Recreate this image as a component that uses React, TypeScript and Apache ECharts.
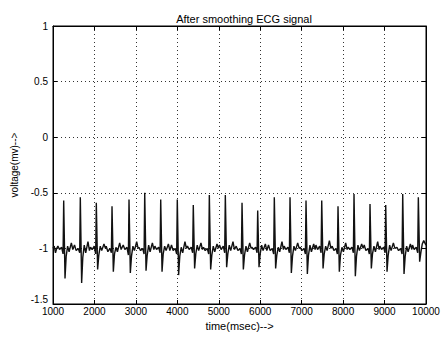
import React, { useEffect, useRef } from "react";
import * as echarts from "echarts";

const chartTitle = "After smoothing ECG signal";
const xAxisName = "time(msec)-->";
const yAxisName = "voltage(mv)-->";

// time (ms), voltage (mV)
const leadIn: [number, number][] = [
  [1000, -1.0], [1030, -0.98], [1060, -1.04], [1090, -1.0],
];
const beat01: [number, number][] = [[1118, -0.98], [1158, -1.01], [1208, -0.99], [1243, -1.05], [1258, -0.57], [1290, -1.27], [1318, -1.07], [1353, -0.98], [1388, -1.03], [1443, -0.95], [1478, -1.01]];
const beat02: [number, number][] = [[1519, -0.97], [1559, -1.02], [1609, -1.0], [1644, -1.04], [1659, -0.54], [1691, -1.31], [1719, -1.08], [1754, -0.97], [1789, -1.04], [1844, -0.94], [1879, -1.02]];
const beat03: [number, number][] = [[1905, -0.99], [1945, -1.01], [1995, -0.98], [2030, -1.05], [2045, -0.59], [2077, -1.19], [2105, -1.06], [2140, -0.98], [2175, -1.02], [2230, -0.96], [2265, -1.0]];
const beat04: [number, number][] = [[2284, -0.98], [2324, -1.03], [2374, -1.0], [2409, -1.04], [2424, -0.62], [2456, -1.21], [2484, -1.05], [2519, -0.99], [2554, -1.03], [2609, -0.95], [2644, -1.01]];
const beat05: [number, number][] = [[2694, -0.97], [2734, -1.01], [2784, -0.99], [2819, -1.06], [2834, -0.56], [2866, -1.22], [2894, -1.07], [2929, -0.98], [2964, -1.02], [3019, -0.94], [3054, -1.0]];
const beat06: [number, number][] = [[3073, -0.99], [3113, -1.02], [3163, -1.0], [3198, -1.05], [3213, -0.5], [3245, -1.2], [3273, -1.06], [3308, -0.97], [3343, -1.03], [3398, -0.95], [3433, -1.01]];
const beat07: [number, number][] = [[3459, -0.98], [3499, -1.01], [3549, -0.99], [3584, -1.04], [3599, -0.56], [3631, -1.21], [3659, -1.05], [3694, -0.98], [3729, -1.02], [3784, -0.96], [3819, -1.02]];
const beat08: [number, number][] = [[3859, -0.97], [3899, -1.02], [3949, -1.0], [3984, -1.05], [3999, -0.56], [4031, -1.24], [4059, -1.07], [4094, -0.99], [4129, -1.04], [4184, -0.94], [4219, -1.0]];
const beat09: [number, number][] = [[4245, -0.98], [4285, -1.01], [4335, -0.99], [4370, -1.04], [4385, -0.61], [4417, -1.18], [4445, -1.05], [4480, -0.97], [4515, -1.02], [4570, -0.95], [4605, -1.01]];
const beat10: [number, number][] = [[4632, -0.99], [4672, -1.02], [4722, -1.0], [4757, -1.05], [4772, -0.52], [4804, -1.19], [4832, -1.06], [4867, -0.98], [4902, -1.03], [4957, -0.96], [4992, -1.0]];
const beat11: [number, number][] = [[5018, -0.97], [5058, -1.01], [5108, -0.98], [5143, -1.04], [5158, -0.52], [5190, -1.17], [5218, -1.05], [5253, -0.97], [5288, -1.02], [5343, -0.94], [5378, -1.01]];
const beat12: [number, number][] = [[5421, -0.98], [5461, -1.02], [5511, -1.0], [5546, -1.05], [5561, -0.59], [5593, -1.19], [5621, -1.06], [5656, -0.98], [5691, -1.03], [5746, -0.95], [5781, -1.0]];
const beat13: [number, number][] = [[5799, -0.99], [5839, -1.01], [5889, -0.99], [5924, -1.04], [5939, -0.66], [5971, -1.17], [5999, -1.05], [6034, -0.97], [6069, -1.02], [6124, -0.96], [6159, -1.02]];
const beat14: [number, number][] = [[6200, -0.97], [6240, -1.02], [6290, -1.0], [6325, -1.05], [6340, -0.54], [6372, -1.18], [6400, -1.06], [6435, -0.99], [6470, -1.03], [6525, -0.94], [6560, -1.01]];
const beat15: [number, number][] = [[6579, -0.98], [6619, -1.01], [6669, -0.99], [6704, -1.04], [6719, -0.54], [6751, -1.22], [6779, -1.07], [6814, -0.98], [6849, -1.02], [6904, -0.95], [6939, -1.0]];
const beat16: [number, number][] = [[6965, -0.99], [7005, -1.02], [7055, -1.0], [7090, -1.05], [7105, -0.57], [7137, -1.23], [7165, -1.06], [7200, -0.97], [7235, -1.03], [7290, -0.96], [7325, -1.01]];
const beat17: [number, number][] = [[7344, -0.97], [7384, -1.01], [7434, -0.98], [7469, -1.04], [7484, -0.57], [7516, -1.18], [7544, -1.05], [7579, -0.98], [7614, -1.02], [7669, -0.93], [7704, -1.0]];
const beat18: [number, number][] = [[7737, -0.98], [7777, -1.02], [7827, -1.0], [7862, -1.05], [7877, -0.62], [7909, -1.21], [7937, -1.06], [7972, -0.99], [8007, -1.03], [8062, -0.95], [8097, -1.01]];
const beat19: [number, number][] = [[8123, -0.99], [8163, -1.01], [8213, -0.99], [8248, -1.04], [8263, -0.51], [8295, -1.25], [8323, -1.07], [8358, -0.97], [8393, -1.02], [8448, -0.96], [8483, -1.0]];
const beat20: [number, number][] = [[8509, -0.97], [8549, -1.02], [8599, -1.0], [8634, -1.05], [8649, -0.6], [8681, -1.18], [8709, -1.05], [8744, -0.98], [8779, -1.03], [8834, -0.94], [8869, -1.01]];
const beat21: [number, number][] = [[8888, -0.98], [8928, -1.01], [8978, -0.99], [9013, -1.04], [9028, -0.61], [9060, -1.21], [9088, -1.06], [9123, -0.97], [9158, -1.02], [9213, -0.95], [9248, -1.0]];
const beat22: [number, number][] = [[9298, -0.99], [9338, -1.02], [9388, -1.0], [9423, -1.05], [9438, -0.51], [9470, -1.23], [9498, -1.07], [9533, -0.98], [9568, -1.03], [9623, -0.96], [9658, -1.01]];
const beat23: [number, number][] = [[9675, -0.97], [9715, -1.01], [9765, -0.99], [9800, -1.04], [9815, -0.54], [9847, -1.12], [9875, -1.04], [9910, -0.96], [9945, -0.93], [10000, -0.97]];

const ecgSignal: [number, number][] = [
  ...leadIn, ...beat01, ...beat02, ...beat03, ...beat04, ...beat05, ...beat06,
  ...beat07, ...beat08, ...beat09, ...beat10, ...beat11, ...beat12, ...beat13,
  ...beat14, ...beat15, ...beat16, ...beat17, ...beat18, ...beat19, ...beat20,
  ...beat21, ...beat22, ...beat23,
];

const FONT = "'Liberation Sans', Arial, Helvetica, sans-serif";

export default function App() {
  const ref = useRef<HTMLDivElement>(null);
  useEffect(() => {
    if (!ref.current) return;
    const chart = echarts.init(ref.current, undefined, { renderer: "svg" });
    const grid = { left: 53, right: 17, top: 26, bottom: 35 };
    const tick = { show: true, inside: true, length: 4, lineStyle: { color: "#000" } };
    const split = { show: true, lineStyle: { color: "#333", type: [1, 3] as any, width: 1 } };
    const line = { show: true, onZero: false, lineStyle: { color: "#000", width: 1 } };
    chart.setOption({
      animation: false,
      backgroundColor: "#fff",
      textStyle: { fontFamily: FONT },
      title: {
        text: chartTitle,
        left: 239,
        top: 8,
        textAlign: "center",
        textStyle: { fontSize: 11, fontWeight: "normal", color: "#000", fontFamily: FONT },
      },
      grid: { ...grid, show: true, borderColor: "#000", borderWidth: 1, backgroundColor: "#fff" },
      xAxis: [
        {
          type: "value",
          min: 1000,
          max: 10000,
          interval: 1000,
          name: xAxisName,
          nameLocation: "middle",
          nameGap: 12,
          nameTextStyle: { fontSize: 11, color: "#000", fontFamily: FONT },
          axisLine: line,
          axisTick: tick,
          axisLabel: { color: "#000", fontSize: 10, margin: 2, formatter: (v: number) => String(v), fontFamily: FONT },
          splitLine: split,
        },
        {
          type: "value",
          position: "top",
          min: 1000,
          max: 10000,
          interval: 1000,
          axisLine: line,
          axisTick: tick,
          axisLabel: { show: false },
          splitLine: { show: false },
        },
      ],
      yAxis: [
        {
          type: "value",
          min: -1.5,
          max: 1,
          interval: 0.5,
          name: yAxisName,
          nameLocation: "middle",
          nameGap: 27,
          nameTextStyle: { fontSize: 10, color: "#000", fontFamily: FONT },
          axisLine: line,
          axisTick: tick,
          axisLabel: {
            color: "#000",
            fontSize: 10,
            margin: 5,
            fontFamily: FONT,
            formatter: (v: number) => (v === -1.5 ? "{lo|-1.5}" : String(v)),
            rich: { lo: { fontSize: 10, color: "#000", fontFamily: FONT, padding: [0, 0, 9, 0] } },
          },
          splitLine: split,
        },
        {
          type: "value",
          position: "right",
          min: -1.5,
          max: 1,
          interval: 0.5,
          axisLine: line,
          axisTick: tick,
          axisLabel: { show: false },
          splitLine: { show: false },
        },
      ],
      series: [
        {
          type: "line",
          data: ecgSignal,
          xAxisIndex: 0,
          yAxisIndex: 0,
          showSymbol: false,
          symbol: "none",
          lineStyle: { color: "#111", width: 1.4 },
          z: 5,
        },
      ],
    });
    return () => chart.dispose();
  }, []);
  return (
    <div
      ref={ref}
      style={{ position: "absolute", left: 0, top: 0, width: 443, height: 339, background: "#fff" }}
    />
  );
}
